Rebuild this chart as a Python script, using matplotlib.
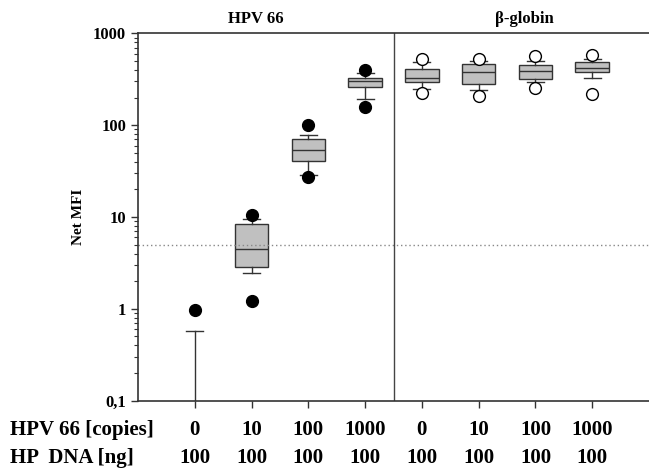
import numpy as np
import matplotlib
matplotlib.use('Agg')
import matplotlib.pyplot as plt
from matplotlib.ticker import LogLocator, NullFormatter

plt.rcParams['font.family'] = ['Liberation Serif', 'DejaVu Serif']
plt.rcParams['font.weight'] = 'bold'

# box statistics (Net MFI, log scale)
copies = ['0', '10', '100', '1000', '0', '10', '100', '1000']
hp_dna = ['100'] * 8
whislo = [0.01, 2.47, 28.6, 191, 248, 240, 293, 329]
q1     = [0.01, 2.87, 41, 260, 293, 279, 318, 377]
med    = [0.01, 4.45, 53.6, 305, 324, 382, 392, 423]
q3     = [0.01, 8.4, 70, 329, 406, 459, 449, 483]
whishi = [0.58, 9.46, 78, 372, 491, 503, 499, 521]
out_lo = [None, 1.22, 27.5, 159, 222, 209, 256, 217]
out_hi = [0.97, 10.6, 100, 398, 521, 521, 570, 580]
cutoff = 5.0

Fsize = 12
Bsize = 15

fig = plt.figure(figsize=(6.49, 4.69), dpi=100)
ax = fig.add_axes([138/649., 1 - 400.7/469., 511/649., (400.7 - 33.3)/469.])

stats = []
for i in range(8):
    stats.append(dict(whislo=whislo[i], q1=q1[i], med=med[i], q3=q3[i],
                      whishi=whishi[i], fliers=[]))
pos = np.arange(1, 9)
ax.bxp(stats, positions=pos, widths=0.59, capwidths=0.3, patch_artist=True,
       boxprops=dict(facecolor='#c0c0c0', edgecolor='#333333', linewidth=1.0),
       medianprops=dict(color='#333333', linewidth=1.0),
       whiskerprops=dict(color='#333333', linewidth=1.0),
       capprops=dict(color='#333333', linewidth=1.0))

# outliers: filled for HPV 66, open for beta-globin
for i in range(8):
    pts = [v for v in (out_lo[i], out_hi[i]) if v is not None]
    if i < 4:
        ax.plot([pos[i]] * len(pts), pts, 'o', color='black', markersize=8.5, zorder=5)
    else:
        ax.plot([pos[i]] * len(pts), pts, 'o', markerfacecolor='white',
                markeredgecolor='black', markeredgewidth=1.0, markersize=8.5, zorder=5)

ax.axhline(cutoff, color='#888888', linestyle=(0, (1, 2)), linewidth=1.0)
ax.axvline(4.5, color='#444444', linewidth=1.0)

ax.set_yscale('log')
ax.set_ylim(0.1, 1000)
ax.set_xlim(0, 9)
ax.set_yticks([0.1, 1, 10, 100, 1000])
ax.set_yticklabels(['0,1', '1', '10', '100', '1000'], fontsize=Fsize, fontweight='bold')
ax.yaxis.set_minor_locator(LogLocator(base=10, subs=np.arange(2, 10)))
ax.yaxis.set_minor_formatter(NullFormatter())
ax.set_xticks(pos)
ax.set_xticklabels([''] * 8)
ax.tick_params(axis='both', which='major', direction='out', length=5, width=1, color='#333333')
ax.tick_params(axis='y', which='minor', direction='out', length=3, width=0.8, color='#333333')
ax.set_ylabel('Net MFI', fontsize=11, fontweight='bold', labelpad=6)

ax.spines['right'].set_visible(False)
for s in ['left', 'top', 'bottom']:
    ax.spines[s].set_color('#333333')
    ax.spines[s].set_linewidth(1.2)

# group titles
ax.text(2.07, 1.04, 'HPV 66', transform=ax.get_xaxis_transform(), ha='center',
        va='center', fontsize=Fsize, fontweight='bold')
ax.text(6.8, 1.04, '\u03b2-globin', transform=ax.get_xaxis_transform(), ha='center',
        va='center', fontsize=Fsize, fontweight='bold')

# table rows under the axis
trans = ax.get_xaxis_transform()
y1 = (400.7 - 430) / (400.7 - 33.3)
y2 = (400.7 - 458) / (400.7 - 33.3)
for i in range(8):
    ax.text(pos[i], y1, copies[i], transform=trans, ha='center', va='center',
            fontsize=Bsize, fontweight='bold', clip_on=False)
    ax.text(pos[i], y2, hp_dna[i], transform=trans, ha='center', va='center',
            fontsize=Bsize, fontweight='bold', clip_on=False)
fig.text(10/649., 1 - 430/469., 'HPV 66 [copies]', ha='left', va='center',
         fontsize=Bsize, fontweight='bold')
fig.text(10/649., 1 - 458/469., 'HP  DNA [ng]', ha='left', va='center',
         fontsize=Bsize, fontweight='bold')

plt.savefig('out.png', dpi=100)
